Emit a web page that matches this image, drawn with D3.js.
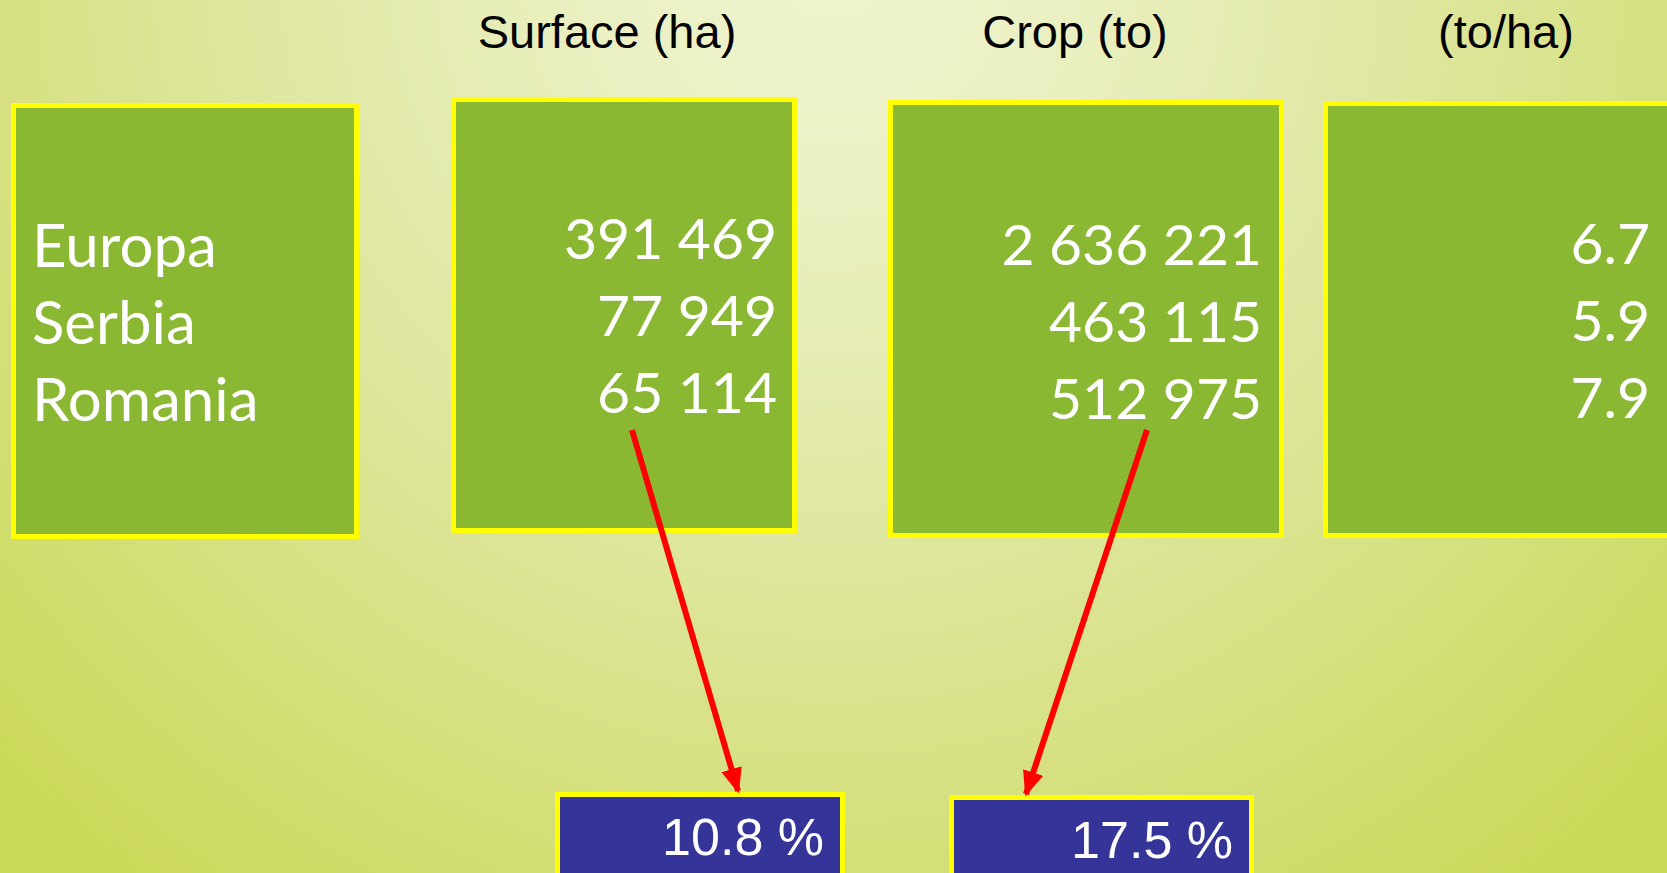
<!DOCTYPE html>
<html>
<head>
<meta charset="utf-8">
<script src="https://cdn.jsdelivr.net/npm/d3@7"></script>
<style>
  body { margin: 0; overflow: hidden; }
  svg { display: block; }
</style>
</head>
<body>
<svg id="chart"></svg>
<script>
// data
var regions = ["Europa", "Serbia", "Romania"];
var headers = ["", "Surface (ha)", "Crop (to)", "(to/ha)"];
var surface = [391469, 77949, 65114];
var crop = [2636221, 463115, 512975];
var yieldPerHa = [6.7, 5.9, 7.9];
var romaniaShare = [10.8, 17.5];   // surface share, crop share

const W = 1667, H = 873;

const svg = d3.select("#chart")
  .attr("width", W)
  .attr("height", H);

// background gradient
const defs = svg.append("defs");
const grad = defs.append("radialGradient")
  .attr("id", "bg")
  .attr("gradientUnits", "userSpaceOnUse")
  .attr("cx", 830).attr("cy", -40).attr("r", 1150);
grad.append("stop").attr("offset", "0%").attr("stop-color", "#eff3cf");
grad.append("stop").attr("offset", "20%").attr("stop-color", "#ebf0c3");
grad.append("stop").attr("offset", "55%").attr("stop-color", "#dde59a");
grad.append("stop").attr("offset", "100%").attr("stop-color", "#cbd95a");

const arrowW = 6;
defs.append("marker")
  .attr("id", "arrowhead")
  .attr("viewBox", "0 0 10 10")
  .attr("refX", 9).attr("refY", 5)
  .attr("markerWidth", 4.2).attr("markerHeight", 4.2)
  .attr("markerUnits", "strokeWidth")
  .attr("orient", "auto")
  .append("path")
    .attr("d", "M0,0.8 L10,5 L0,9.2 Z")
    .attr("fill", "#ff0000");

svg.append("rect")
  .attr("width", W).attr("height", H)
  .attr("fill", "url(#bg)");

const fmt = d3.formatLocale({decimal: ".", thousands: " ", grouping: [3], currency: ["", ""]});
const fmtInt = fmt.format(",d");
const fmtDec = fmt.format(".1f");

// columns: outer box edges
const columns = [
  {x0: 11,   x1: 359,  y0: 103, y1: 539, base: 267, align: "start", tx: 32,   size: 60, values: regions},
  {x0: 451,  x1: 797,  y0: 97,  y1: 533, base: 259, align: "end",   tx: 777,  size: 57, values: surface.map(fmtInt)},
  {x0: 888,  x1: 1284, y0: 100, y1: 538, base: 265, align: "end",   tx: 1262, size: 57, values: crop.map(fmtInt)},
  {x0: 1323, x1: 1720, y0: 101, y1: 538, base: 264, align: "end",   tx: 1650, size: 57, values: yieldPerHa.map(fmtDec)}
];
columns.forEach(function(c, i){ c.header = headers[i]; });

const headerX = [0, 607, 1075, 1506];

const rowY = d3.scalePoint()
  .domain(regions)
  .range([0, 154]);

const borderW = 5;

// headers
svg.selectAll(".header")
  .data(columns.filter(function(c){ return c.header !== ""; }))
  .join("text")
    .attr("class", "header")
    .attr("x", function(d){ return headerX[columns.indexOf(d)]; })
    .attr("y", 48)
    .attr("text-anchor", "middle")
    .attr("font-family", "'Liberation Sans', Arial, sans-serif")
    .attr("font-size", 47)
    .attr("fill", "#000")
    .text(function(d){ return d.header; });

const cols = svg.selectAll(".col")
  .data(columns)
  .join("g")
    .attr("class", "col");

cols.append("rect")
  .attr("x", function(d){ return d.x0 + borderW / 2; })
  .attr("y", function(d){ return d.y0 + borderW / 2; })
  .attr("width", function(d){ return d.x1 - d.x0 - borderW; })
  .attr("height", function(d){ return d.y1 - d.y0 - borderW; })
  .attr("fill", "#8bb833")
  .attr("stroke", "#ffff00")
  .attr("stroke-width", borderW);

cols.selectAll(".val")
  .data(function(d){
    return d.values.map(function(v, i){
      return {text: v, region: regions[i], col: d};
    });
  })
  .join("text")
    .attr("class", "val")
    .attr("x", function(d){ return d.col.tx; })
    .attr("y", function(d){ return d.col.base + rowY(d.region); })
    .attr("text-anchor", function(d){ return d.col.align; })
    .attr("font-family", "Lato, 'Open Sans', sans-serif")
    .attr("font-size", function(d){ return d.col.size; })
    .attr("fill", "#ffffff")
    .text(function(d){ return d.text; });

// share boxes under surface and crop
const shareBoxes = [
  {x0: 555, x1: 845,  y0: 792, src: columns[1], sx: 632,  tipX: 738},
  {x0: 949, x1: 1254, y0: 795, src: columns[2], sx: 1147, tipX: 1026}
];
shareBoxes.forEach(function(b, i){ b.value = romaniaShare[i]; });

const share = svg.selectAll(".share")
  .data(shareBoxes)
  .join("g")
    .attr("class", "share");

share.append("rect")
  .attr("x", function(d){ return d.x0 + borderW / 2; })
  .attr("y", function(d){ return d.y0 + borderW / 2; })
  .attr("width", function(d){ return d.x1 - d.x0 - borderW; })
  .attr("height", 140)
  .attr("fill", "#343499")
  .attr("stroke", "#ffff00")
  .attr("stroke-width", borderW);

share.append("text")
  .attr("x", function(d){ return d.x1 - 21; })
  .attr("y", function(d){ return d.y0 + 63; })
  .attr("text-anchor", "end")
  .attr("font-family", "'Liberation Sans', Arial, sans-serif")
  .attr("font-size", 52)
  .attr("fill", "#ffffff")
  .text(function(d){ return d.value.toFixed(1) + " %"; });

// arrows from below the Romania value down to the share box
share.append("line")
  .attr("x1", function(d){ return d.sx; })
  .attr("y1", 430)
  .attr("x2", function(d){ return d.tipX; })
  .attr("y2", function(d){ return d.y0 - 1; })
  .attr("stroke", "#ff0000")
  .attr("stroke-width", arrowW)
  .attr("marker-end", "url(#arrowhead)");
</script>
</body>
</html>
